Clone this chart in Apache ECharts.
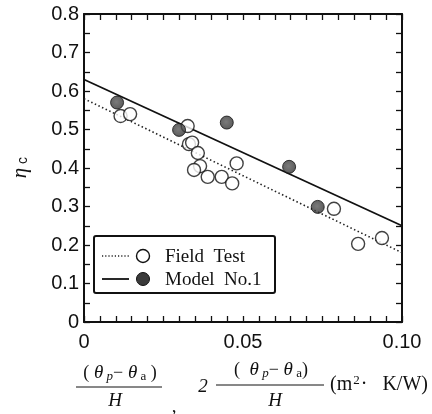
<!DOCTYPE html>
<html>
<head>
<meta charset="utf-8">
<script src="https://cdn.jsdelivr.net/npm/echarts@6/dist/echarts.min.js"></script>
<style>
  html, body { margin: 0; padding: 0; background: #fff; }
  #chart { width: 432px; height: 414px; }
</style>
</head>
<body>
<div id="chart"></div>
<script>
// Field test measurements: x = (θp-θa)/H, y = ηc
const fieldX = [0.0115, 0.0145, 0.0326, 0.0330, 0.0340, 0.0358, 0.0365, 0.0346, 0.0389, 0.0433, 0.0466, 0.0480, 0.0786, 0.0862, 0.0937];
const fieldY = [0.535, 0.540, 0.509, 0.462, 0.466, 0.439, 0.405, 0.395, 0.377, 0.377, 0.360, 0.412, 0.294, 0.203, 0.218];
// Model No.1 results: x = 2(θp-θa)/H, y = ηc
const modelX = [0.0104, 0.0299, 0.0449, 0.0645, 0.0735];
const modelY = [0.570, 0.499, 0.518, 0.403, 0.299];
// Fitted straight lines
const fitX = [0, 0.10];
const fieldFitY = [0.58, 0.18];
const modelFitY = [0.63, 0.25];
// Axis ticks
const xTicks = [0, 0.05, 0.10];
const xTickLabels = ['0', '0.05', '0.10'];

const pairs = (xs, ys) => xs.map((x, i) => [x, ys[i]]);
const INK = '#111';
const numFont = '"Liberation Sans", Arial, sans-serif';
const serif = '"Liberation Serif", "Times New Roman", serif';

const chart = echarts.init(document.getElementById('chart'), null, { renderer: 'canvas' });

const axisCommon = {
  axisLine: { show: true, onZero: false, lineStyle: { color: INK, width: 2 } },
  axisTick: { show: true, inside: true, length: 6, lineStyle: { color: INK, width: 1.3 } },
  minorTick: { show: true, length: 6, lineStyle: { color: INK, width: 1.3 } },
  splitLine: { show: false }
};

// Numerator "(θp − θa)" built from rich text
const rich = {
  p: { fontFamily: serif, fontSize: 18, fill: INK, lineHeight: 22 },
  t: { fontFamily: serif, fontSize: 19, fontStyle: 'italic', fill: INK, lineHeight: 22 },
  si: { fontFamily: serif, fontSize: 13, fontStyle: 'italic', fill: INK, lineHeight: 22, padding: [7, 0, 0, 0] },
  s: { fontFamily: serif, fontSize: 13, fill: INK, lineHeight: 22, padding: [7, 0, 0, 0] }
};
const numer1 = '{p|(}{t| θ}{si| p}{p|−}{t| θ}{s| a}{p| )}';
const numer2 = '{p|(}{t|  θ}{si| p}{p|−}{t| θ}{s| a}{p|)}';

chart.setOption({
  animation: false,
  backgroundColor: '#fff',
  grid: { left: 84, top: 14, right: 30, bottom: 92, containLabel: false },
  xAxis: [
    Object.assign({}, axisCommon, {
      type: 'value', min: 0, max: 0.10, interval: 0.05,
      minorTick: Object.assign({}, axisCommon.minorTick, { splitNumber: 10 }),
      axisLabel: {
        show: true, margin: 10, color: INK, fontFamily: numFont, fontSize: 20,
        formatter: v => xTickLabels[xTicks.findIndex(t => Math.abs(t - v) < 1e-9)] ?? ''
      }
    }),
    Object.assign({}, axisCommon, {
      type: 'value', position: 'top', min: 0, max: 0.10, interval: 0.05,
      minorTick: Object.assign({}, axisCommon.minorTick, { splitNumber: 10 }),
      axisLabel: { show: false }
    })
  ],
  yAxis: [
    Object.assign({}, axisCommon, {
      type: 'value', min: 0, max: 0.8, interval: 0.1,
      minorTick: Object.assign({}, axisCommon.minorTick, { splitNumber: 2 }),
      axisLabel: {
        show: true, margin: 5, color: INK, fontFamily: numFont, fontSize: 20,
        formatter: v => (v === 0 ? '0' : v.toFixed(1))
      }
    }),
    Object.assign({}, axisCommon, {
      type: 'value', position: 'right', min: 0, max: 0.8, interval: 0.1,
      minorTick: Object.assign({}, axisCommon.minorTick, { splitNumber: 2 }),
      axisLabel: { show: false }
    })
  ],
  series: [
    {
      name: 'Field Test fit', type: 'line', data: pairs(fitX, fieldFitY),
      symbol: 'none', silent: true,
      lineStyle: { color: '#222', width: 1.6, type: [1.5, 2.5] }, z: 2
    },
    {
      name: 'Model No.1 fit', type: 'line', data: pairs(fitX, modelFitY),
      symbol: 'none', silent: true,
      lineStyle: { color: INK, width: 1.8 }, z: 2
    },
    {
      name: 'Field Test', type: 'scatter', data: pairs(fieldX, fieldY),
      symbol: 'circle', symbolSize: 13,
      itemStyle: { color: '#fff', borderColor: INK, borderWidth: 1.4 }, z: 3
    },
    {
      name: 'Model No.1', type: 'scatter', data: pairs(modelX, modelY),
      symbol: 'circle', symbolSize: 13,
      itemStyle: {
        color: new echarts.graphic.RadialGradient(0.45, 0.45, 0.6, [
          { offset: 0, color: '#5a5a5a' }, { offset: 1, color: '#2e2e2e' }
        ]),
        borderColor: '#111', borderWidth: 1
      }, z: 4
    }
  ],
  graphic: [
    // Y axis title ηc
    {
      type: 'text', left: 10, top: 157, rotation: Math.PI / 2,
      style: {
        text: '{e|η}{c| c}',
        rich: {
          e: { fontFamily: serif, fontSize: 21, fontStyle: 'italic', fill: INK },
          c: { fontFamily: numFont, fontSize: 14, fill: INK, padding: [6, 0, 0, 0] }
        }
      }
    },
    // Legend box
    {
      type: 'rect', shape: { x: 94, y: 236, width: 181, height: 57, r: 2 },
      style: { fill: '#fff', stroke: INK, lineWidth: 2 }, z: 10
    },
    {
      type: 'line', shape: { x1: 102, y1: 256, x2: 129, y2: 256 },
      style: { stroke: '#222', lineWidth: 1.4, lineDash: [1.2, 2] }, z: 11
    },
    {
      type: 'circle', shape: { cx: 143, cy: 256, r: 6.5 },
      style: { fill: '#fff', stroke: INK, lineWidth: 1.4 }, z: 11
    },
    {
      type: 'text', x: 165, y: 257, z: 11,
      style: { text: 'Field  Test', fontFamily: serif, fontSize: 19, fill: INK, verticalAlign: 'middle' }
    },
    {
      type: 'line', shape: { x1: 102, y1: 279, x2: 129, y2: 279 },
      style: { stroke: INK, lineWidth: 1.8 }, z: 11
    },
    {
      type: 'circle', shape: { cx: 143, cy: 279, r: 6.5 },
      style: { fill: '#3a3a3a', stroke: INK, lineWidth: 1 }, z: 11
    },
    {
      type: 'text', x: 165, y: 280, z: 11,
      style: { text: 'Model  No.1', fontFamily: serif, fontSize: 19, fill: INK, verticalAlign: 'middle' }
    },
    // X axis title: (θp−θa)/H , 2(θp−θa)/H (m²·K/W)
    {
      type: 'text', x: 120, y: 373, z: 11,
      style: { text: numer1, rich: rich, align: 'center', verticalAlign: 'middle' }
    },
    {
      type: 'line', shape: { x1: 76, y1: 387, x2: 162, y2: 387 },
      style: { stroke: INK, lineWidth: 1 }
    },
    {
      type: 'text', x: 115, y: 401, z: 11,
      style: { text: 'H', fontFamily: serif, fontSize: 19, fontStyle: 'italic', fill: INK, align: 'center', verticalAlign: 'middle' }
    },
    {
      type: 'text', x: 174, y: 407, z: 11,
      style: { text: ',', fontFamily: serif, fontSize: 19, fill: INK, align: 'center', verticalAlign: 'middle' }
    },
    {
      type: 'text', x: 203, y: 387, z: 11,
      style: { text: '2', fontFamily: serif, fontSize: 19, fontStyle: 'italic', fill: INK, align: 'center', verticalAlign: 'middle' }
    },
    {
      type: 'text', x: 271, y: 370, z: 11,
      style: { text: numer2, rich: rich, align: 'center', verticalAlign: 'middle' }
    },
    {
      type: 'line', shape: { x1: 216, y1: 385, x2: 324, y2: 385 },
      style: { stroke: INK, lineWidth: 1 }
    },
    {
      type: 'text', x: 275, y: 401, z: 11,
      style: { text: 'H', fontFamily: serif, fontSize: 19, fontStyle: 'italic', fill: INK, align: 'center', verticalAlign: 'middle' }
    },
    {
      type: 'text', x: 330, y: 385, z: 11,
      style: {
        text: '{p|(m}{sup|2}{p|·   K/W)}',
        rich: {
          p: { fontFamily: serif, fontSize: 20, fill: INK, lineHeight: 22 },
          sup: { fontFamily: serif, fontSize: 13, fill: INK, lineHeight: 22, padding: [0, 1, 9, 1] }
        },
        verticalAlign: 'middle'
      }
    }
  ]
});
</script>
</body>
</html>
